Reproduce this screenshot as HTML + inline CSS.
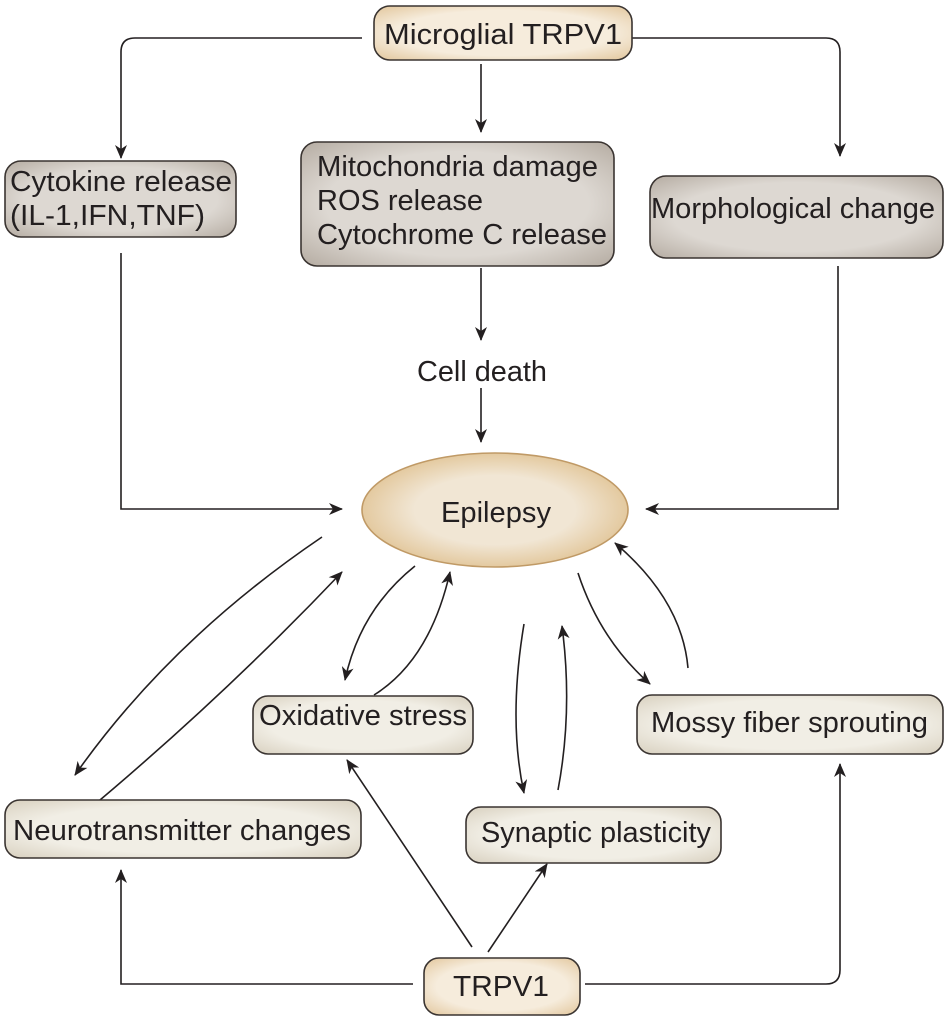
<!DOCTYPE html>
<html><head><meta charset="utf-8"><style>
html,body{margin:0;padding:0;background:#fff;}
svg{display:block;}
text{font-family:"Liberation Sans",Arial,sans-serif;font-size:29px;fill:#231f20;}
</style></head><body>
<svg width="950" height="1023" viewBox="0 0 950 1023" xmlns="http://www.w3.org/2000/svg">
<defs>
<marker id="a" viewBox="0 0 14 12" refX="13" refY="6" markerWidth="14" markerHeight="12" markerUnits="userSpaceOnUse" orient="auto">
<path d="M0,0 L14,6 L0,12 L4,6 Z" fill="#231f20"/></marker>
<radialGradient id="cream" cx="50%" cy="50%" r="70%"><stop offset="0.6" stop-color="#f6ecdc"/><stop offset="1" stop-color="#e2c69c"/></radialGradient>
<radialGradient id="grey" cx="50%" cy="50%" r="70%"><stop offset="0.6" stop-color="#ddd8d2"/><stop offset="1" stop-color="#b5aca2"/></radialGradient>
<radialGradient id="light" cx="50%" cy="50%" r="70%"><stop offset="0.6" stop-color="#f1eee5"/><stop offset="1" stop-color="#d8d0bf"/></radialGradient>
<radialGradient id="ell" cx="50%" cy="50%" r="55%"><stop offset="0.55" stop-color="#f1e6d4"/><stop offset="1" stop-color="#e0c292"/></radialGradient>
</defs>
<g stroke="#231f20" stroke-width="1.6" fill="none">
<path d="M362,38 H135 Q121,38 121,52 V158" marker-end="url(#a)"/>
<path d="M481,64 V132" marker-end="url(#a)"/>
<path d="M632,38 H826 Q840,38 840,52 V156" marker-end="url(#a)"/>
<path d="M481,268 V340" marker-end="url(#a)"/>
<path d="M481,388 V442" marker-end="url(#a)"/>
<path d="M121,253 V509 H342" marker-end="url(#a)"/>
<path d="M838,266 V509 H646" marker-end="url(#a)"/>
<path d="M322,537 Q170,640 75,775" marker-end="url(#a)"/>
<path d="M100,800 Q230,690 342,572" marker-end="url(#a)"/>
<path d="M415,566 Q360,610 345,680" marker-end="url(#a)"/>
<path d="M374,695 Q430,660 450,572" marker-end="url(#a)"/>
<path d="M524,624 Q508,720 524,793" marker-end="url(#a)"/>
<path d="M558,790 Q573,710 562,626" marker-end="url(#a)"/>
<path d="M578,573 Q600,640 650,684" marker-end="url(#a)"/>
<path d="M688,668 Q682,600 615,543" marker-end="url(#a)"/>
<path d="M413,984 H121 V870" marker-end="url(#a)"/>
<path d="M472,947 L347,760" marker-end="url(#a)"/>
<path d="M488,952 L547,864" marker-end="url(#a)"/>
<path d="M585,984 H826 Q840,984 840,970 V764" marker-end="url(#a)"/>
</g>
<g stroke="#3a3431" stroke-width="1.6">
<rect x="374" y="6" width="258" height="54" rx="16" fill="url(#cream)"/>
<rect x="5" y="161" width="231" height="76" rx="16" fill="url(#grey)"/>
<rect x="301" y="142" width="313" height="124" rx="16" fill="url(#grey)"/>
<rect x="650" y="176" width="293" height="82" rx="16" fill="url(#grey)"/>
<ellipse cx="495" cy="510" rx="133" ry="57" fill="url(#ell)" stroke="#c09a66"/>
<rect x="253" y="696" width="220" height="58" rx="15" fill="url(#light)"/>
<rect x="637" y="695" width="306" height="59" rx="15" fill="url(#light)"/>
<rect x="5" y="800" width="356" height="58" rx="15" fill="url(#light)"/>
<rect x="466" y="807" width="255" height="56" rx="15" fill="url(#light)"/>
<rect x="424" y="958" width="156" height="57" rx="15" fill="url(#cream)"/>
</g>
<text x="503" y="44" text-anchor="middle" textLength="238" lengthAdjust="spacingAndGlyphs">Microglial TRPV1</text>
<text x="10" y="191" textLength="222" lengthAdjust="spacingAndGlyphs">Cytokine release</text>
<text x="10" y="225" textLength="195" lengthAdjust="spacingAndGlyphs">(IL-1,IFN,TNF)</text>
<text x="317" y="176" textLength="281" lengthAdjust="spacingAndGlyphs">Mitochondria damage</text>
<text x="317" y="210" textLength="166" lengthAdjust="spacingAndGlyphs">ROS release</text>
<text x="317" y="244" textLength="290" lengthAdjust="spacingAndGlyphs">Cytochrome C release</text>
<text x="651" y="218" textLength="284" lengthAdjust="spacingAndGlyphs">Morphological change</text>
<text x="417" y="381" textLength="130" lengthAdjust="spacingAndGlyphs">Cell death</text>
<text x="441" y="522" textLength="110" lengthAdjust="spacingAndGlyphs">Epilepsy</text>
<text x="259" y="725" textLength="208" lengthAdjust="spacingAndGlyphs">Oxidative stress</text>
<text x="651" y="732" textLength="277" lengthAdjust="spacingAndGlyphs">Mossy fiber sprouting</text>
<text x="13" y="840" textLength="338" lengthAdjust="spacingAndGlyphs">Neurotransmitter changes</text>
<text x="481" y="842" textLength="230" lengthAdjust="spacingAndGlyphs">Synaptic plasticity</text>
<text x="453" y="996" textLength="96" lengthAdjust="spacingAndGlyphs">TRPV1</text>
</svg>
</body></html>
